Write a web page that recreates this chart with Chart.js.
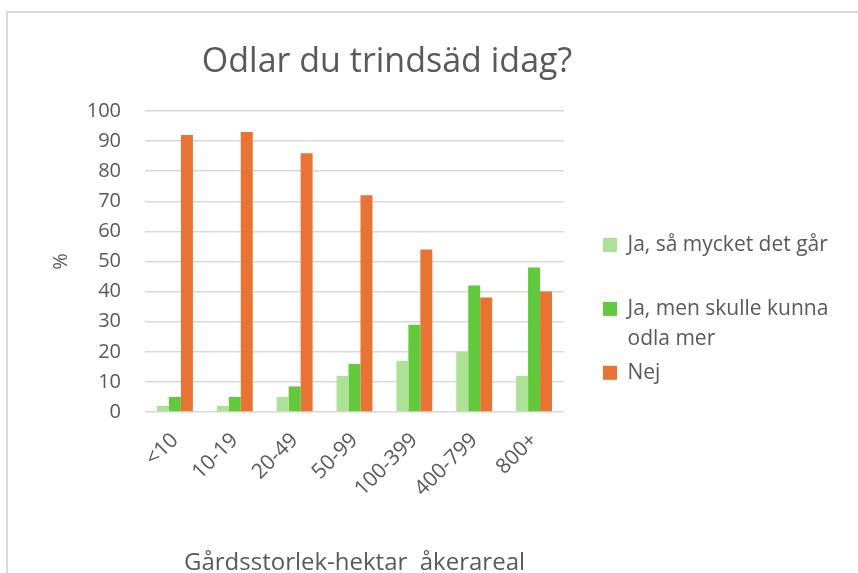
<!DOCTYPE html>
<html>
<head>
<meta charset="utf-8">
<script src="https://cdn.jsdelivr.net/npm/chart.js@4.4.1/dist/chart.umd.min.js"></script>
<style>
  html, body { margin: 0; padding: 0; background: #fff; overflow: hidden; }
  #wrap { position: relative; width: 858px; height: 573px; }
  #frame { position: absolute; left: 6px; top: 11px; width: 900px; height: 600px;
           border-top: 2px solid #dadada; border-left: 2px solid #dadada; pointer-events: none; }
</style>
</head>
<body>
<div id="wrap">
  <canvas id="myChart" width="858" height="573"></canvas>
  <div id="frame"></div>
</div>
<script>
// Odlar du trindsäd idag? (% per gårdsstorlek)

var categories = ['<10', '10-19', '20-49', '50-99', '100-399', '400-799', '800+'];

var jaSaMycket = [2, 2, 5, 12, 17, 20, 12];
var jaMenMer = [5, 5, 8.5, 16, 29, 42, 48];
var nej = [92, 93, 86, 72, 54, 38, 40];

var seriesNames = ['Ja, så mycket det går', 'Ja, men skulle kunna odla mer', 'Nej'];
// legend text split in lines like in the original
// (the blank second line is long so the legend box gets wide enough, it is clamped by maxWidth)
var legendLines = [
    ['Ja, så mycket det går', ' '.repeat(60)],
    ['Ja, men skulle kunna', 'odla mer'],
    ['Nej']
];

var textColor = '#595959';
Chart.defaults.font.family = "'Open Sans', sans-serif";
Chart.defaults.color = textColor;

// title is not centred on the canvas in the original
var titleShift = {
    id: 'titleShift',
    afterLayout: function(chart) {
        var t = chart.titleBlock;
        var w = t.right - t.left;
        t.left = 387 - w / 2;
        t.right = t.left + w;
    }
};

new Chart('myChart', {
    type: 'bar',
    data: {
        labels: categories,
        datasets: [{
            label: seriesNames[0],
            data: jaSaMycket,
            backgroundColor: '#ACE296',
            yAxisID: 'y'
        }, {
            label: seriesNames[1],
            data: jaMenMer,
            backgroundColor: '#62C83C',
            yAxisID: 'y'
        }, {
            label: seriesNames[2],
            data: nej,
            backgroundColor: '#E97332',
            yAxisID: 'y'
        }]
    },
    options: {
        responsive: false,
        animation: false,
        categoryPercentage: 0.6,
        barPercentage: 1.0,
        layout: {
            padding: { left: 40, right: 0, top: 0, bottom: 0 }
        },
        plugins: {
            title: {
                display: true,
                text: 'Odlar du trindsäd idag?',
                color: textColor,
                font: { size: 34, weight: 'normal', lineHeight: 1.2 },
                padding: { top: 41.6, bottom: 28.6 }
            },
            legend: {
                position: 'right',
                align: 'start',
                maxWidth: 258,
                title: {
                    display: true,
                    text: ' ',
                    font: { size: 10, lineHeight: 1 },
                    padding: { top: 221.5, bottom: 0 }
                },
                labels: {
                    boxWidth: 14,
                    boxHeight: 14,
                    padding: 3,
                    color: textColor,
                    font: { size: 21, lineHeight: 1.45 },
                    generateLabels: function(chart) {
                        var items = Chart.defaults.plugins.legend.labels.generateLabels(chart);
                        items.forEach(function(it, i) { it.text = legendLines[i]; });
                        return items;
                    }
                }
            },
            tooltip: { enabled: false }
        },
        scales: {
            y: {
                min: 0,
                max: 100,
                ticks: { stepSize: 10, padding: 24, font: { size: 20 }, color: textColor },
                grid: { color: '#d9d9d9', lineWidth: 1.5, drawTicks: false },
                border: { display: false },
                title: {
                    display: true,
                    text: '%',
                    color: textColor,
                    font: { size: 20, lineHeight: 1.2 },
                    padding: { top: 9, bottom: 0 }
                },
                afterFit: function(s) { s.width = 105; }
            },
            x: {
                grid: { display: false, drawTicks: false },
                border: { display: false },
                ticks: { minRotation: 45, maxRotation: 45, padding: 16, font: { size: 21 }, color: textColor },
                title: {
                    display: true,
                    text: 'Gårdsstorlek-hektar  åkerareal',
                    color: textColor,
                    font: { size: 24, lineHeight: 1 },
                    padding: { top: 0, bottom: -2 }
                },
                afterFit: function(s) { s.height = 161; }
            },
            yR: {
                type: 'linear',
                position: 'right',
                grid: { display: false },
                border: { display: false },
                ticks: { display: false },
                afterFit: function(s) { s.width = 36; }
            }
        }
    },
    plugins: [titleShift]
});
</script>
</body>
</html>
